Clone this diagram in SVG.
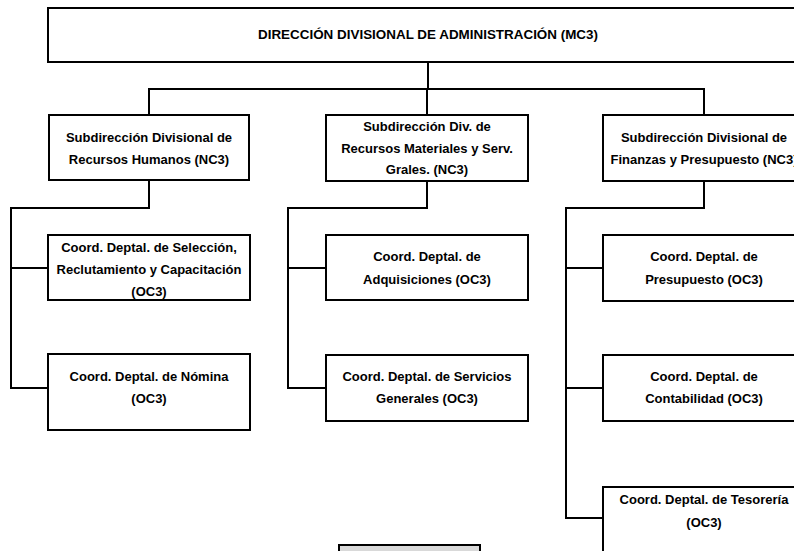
<svg xmlns="http://www.w3.org/2000/svg" width="794" height="551" viewBox="0 0 794 551">
<style>
.box{fill:#ffffff;stroke:#000000;stroke-width:2}
.gray{fill:#d9d9d9;stroke:#000000;stroke-width:2}
.t{font-family:"Liberation Sans",Arial,sans-serif;font-size:13px;font-weight:bold;fill:#000000;text-anchor:middle}
.tt{font-family:"Liberation Sans",Arial,sans-serif;font-size:12px;font-weight:bold;fill:#000000;text-anchor:middle}
.c{fill:none;stroke:#000000;stroke-width:2}
</style>
<rect width="794" height="551" fill="#ffffff"/>
<g id="connectors">
<line class="c" x1="428" y1="62" x2="428" y2="89" stroke-width="1.5"/>
<polyline class="c" points="149,115 149,89 704,89 704,115"/>
<line class="c" x1="427" y1="89" x2="427" y2="115"/>
<polyline class="c" points="149,180 149,208 11,208 11,388 48,388"/>
<line class="c" x1="11" y1="268" x2="48" y2="268"/>
<polyline class="c" points="427,181 427,208 288,208 288,388 326,388"/>
<line class="c" x1="288" y1="268" x2="326" y2="268"/>
<polyline class="c" points="704,181 704,208 566,208 566,518 603,518"/>
<line class="c" x1="566" y1="268" x2="603" y2="268"/>
<line class="c" x1="566" y1="388" x2="603" y2="388"/>
</g>
<g id="n-direccion">
<rect class="box" x="48" y="8" width="762" height="54"/>
<text class="tt" x="428" y="39" textLength="340" lengthAdjust="spacingAndGlyphs">DIRECCIÓN DIVISIONAL DE ADMINISTRACIÓN (MC3)</text>
</g>
<g id="n-rh">
<rect class="box" x="49" y="115" width="200" height="65"/>
<text class="t" x="149" y="142">Subdirección Divisional de</text>
<text class="t" x="149" y="164">Recursos Humanos (NC3)</text>
</g>
<g id="n-rm">
<rect class="box" x="326" y="115" width="202" height="66"/>
<text class="t" x="427" y="131">Subdirección Div. de</text>
<text class="t" x="427" y="153">Recursos Materiales y Serv.</text>
<text class="t" x="427" y="174">Grales. (NC3)</text>
</g>
<g id="n-fp">
<rect class="box" x="603" y="115" width="202" height="66"/>
<text class="t" x="704" y="142">Subdirección Divisional de</text>
<text class="t" x="704" y="164">Finanzas y Presupuesto (NC3)</text>
</g>
<g id="n-seleccion">
<rect class="box" x="48" y="235" width="202" height="65"/>
<text class="t" x="149" y="252">Coord. Deptal. de Selección,</text>
<text class="t" x="149" y="274">Reclutamiento y Capacitación</text>
<text class="t" x="149" y="296">(OC3)</text>
</g>
<g id="n-nomina">
<rect class="box" x="48" y="354" width="202" height="76"/>
<text class="t" x="149" y="381">Coord. Deptal. de Nómina</text>
<text class="t" x="149" y="403">(OC3)</text>
</g>
<g id="n-adquisiciones">
<rect class="box" x="326" y="235" width="202" height="65"/>
<text class="t" x="427" y="261">Coord. Deptal. de</text>
<text class="t" x="427" y="284">Adquisiciones (OC3)</text>
</g>
<g id="n-servicios">
<rect class="box" x="326" y="355" width="202" height="66"/>
<text class="t" x="427" y="381">Coord. Deptal. de Servicios</text>
<text class="t" x="427" y="403">Generales (OC3)</text>
</g>
<g id="n-presupuesto">
<rect class="box" x="603" y="235" width="202" height="66"/>
<text class="t" x="704" y="261">Coord. Deptal. de</text>
<text class="t" x="704" y="284">Presupuesto (OC3)</text>
</g>
<g id="n-contabilidad">
<rect class="box" x="603" y="355" width="202" height="66"/>
<text class="t" x="704" y="381">Coord. Deptal. de</text>
<text class="t" x="704" y="403">Contabilidad (OC3)</text>
</g>
<g id="n-tesoreria">
<rect class="box" x="603" y="487" width="202" height="80"/>
<text class="t" x="704" y="504">Coord. Deptal. de Tesorería</text>
<text class="t" x="704" y="527">(OC3)</text>
</g>
<g id="n-gray">
<rect class="gray" x="339" y="545" width="141" height="20"/>
</g>
</svg>
